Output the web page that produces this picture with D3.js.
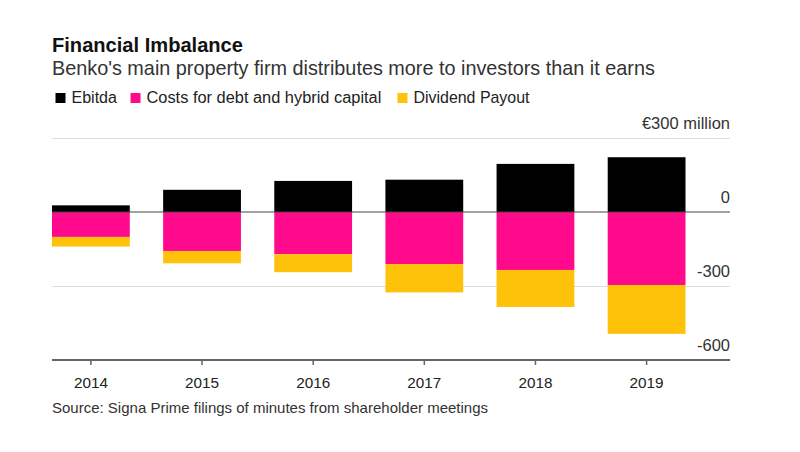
<!DOCTYPE html>
<html>
<head>
<meta charset="utf-8">
<script src="https://cdn.jsdelivr.net/npm/d3@7"></script>
<style>
  html, body { margin: 0; padding: 0; background: #fff; }
  svg { display: block; font-family: "Liberation Sans", Arial, sans-serif; }
</style>
</head>
<body>
<svg id="chart" width="800" height="452"></svg>
<script>
// ---- data ----
const years = ["2014", "2015", "2016", "2017", "2018", "2019"];
const ebitda = [27, 90, 126, 131, 195, 222];
const debtCosts = [101, 158, 171, 211, 235, 296];
const dividends = [39, 50, 73, 115, 150, 198];
const yTicks = [300, 0, -300, -600];
const yTickLabels = ["€300 million", "0", "-300", "-600"];
const seriesNames = ["Ebitda", "Costs for debt and hybrid capital", "Dividend Payout"];
const seriesColors = ["#000000", "#ff0a8c", "#ffc20a"];

const svg = d3.select("#chart");

// scale font size so the text spans a target width
function fit(sel, target) {
  const node = sel.node();
  const fs = parseFloat(sel.attr("font-size"));
  const w = node.getComputedTextLength();
  if (w > 0) sel.attr("font-size", (fs * target / w).toFixed(2));
  return sel;
}

// ---- scales ----
const x = d3.scaleBand().domain(years).range([52, 685.5]).paddingInner(0.3).paddingOuter(0);
const y = d3.scaleLinear().domain([-600, 300]).range([360, 138]);
const gridLeft = 52, gridRight = 730;

// ---- title, subtitle, legend ----
fit(svg.append("text").attr("x", 52).attr("y", 52)
  .attr("font-size", 20).attr("font-weight", "bold").attr("fill", "#111")
  .text("Financial Imbalance"), 191);
fit(svg.append("text").attr("x", 52).attr("y", 75)
  .attr("font-size", 18).attr("fill", "#333")
  .text("Benko's main property firm distributes more to investors than it earns"), 603);

const legendX = [55.5, 130.5, 397.5];
const legendW = [45.5, 235, 116];
const legend = svg.append("g");
seriesNames.forEach((name, i) => {
  legend.append("rect").attr("x", legendX[i]).attr("y", 93).attr("width", 10).attr("height", 10)
    .attr("fill", seriesColors[i]);
  fit(legend.append("text").attr("x", legendX[i] + 16).attr("y", 103)
    .attr("font-size", 15).attr("fill", "#222").text(name), legendW[i]);
});

// ---- gridlines & y labels ----
yTicks.forEach((t, i) => {
  if (t !== 0 && t !== -600) {
    svg.append("line").attr("x1", gridLeft).attr("x2", gridRight)
      .attr("y1", Math.round(y(t)) + 0.5).attr("y2", Math.round(y(t)) + 0.5)
      .attr("stroke", "#dcdcdc").attr("stroke-width", 1);
  }
  svg.append("text").attr("x", gridRight).attr("y", y(t) - 9)
    .attr("text-anchor", "end").attr("font-size", 16.5).attr("fill", "#333")
    .text(yTickLabels[i]);
});

// ---- bars ----
const bars = svg.append("g");
years.forEach((yr, i) => {
  const bx = x(yr), bw = x.bandwidth();
  bars.append("rect").attr("x", bx).attr("width", bw)
    .attr("y", y(ebitda[i])).attr("height", y(0) - y(ebitda[i]))
    .attr("fill", seriesColors[0]);
  bars.append("rect").attr("x", bx).attr("width", bw)
    .attr("y", y(0)).attr("height", y(-debtCosts[i]) - y(0))
    .attr("fill", seriesColors[1]);
  bars.append("rect").attr("x", bx).attr("width", bw)
    .attr("y", y(-debtCosts[i])).attr("height", y(-debtCosts[i] - dividends[i]) - y(-debtCosts[i]))
    .attr("fill", seriesColors[2]);
});

// ---- zero line ----
svg.append("line").attr("x1", gridLeft).attr("x2", gridRight)
  .attr("y1", y(0)).attr("y2", y(0))
  .attr("stroke", "#444").attr("stroke-width", 1);

// ---- x axis ----
svg.append("line").attr("x1", gridLeft).attr("x2", gridRight)
  .attr("y1", y(-600)).attr("y2", y(-600))
  .attr("stroke", "#666").attr("stroke-width", 2);
const xAxis = d3.axisBottom(x).tickSize(5).tickPadding(12);
const gx = svg.append("g").attr("transform", `translate(0,${y(-600)})`).call(xAxis);
gx.select(".domain").remove();
gx.selectAll(".tick line").attr("stroke", "#666").attr("stroke-width", 1.5);
gx.selectAll(".tick text").attr("font-size", 15.3).attr("fill", "#222")
  .attr("font-family", "Liberation Sans, Arial, sans-serif");

// ---- source ----
fit(svg.append("text").attr("x", 52).attr("y", 413)
  .attr("font-size", 14.5).attr("fill", "#333")
  .text("Source: Signa Prime filings of minutes from shareholder meetings"), 436);
</script>
</body>
</html>
